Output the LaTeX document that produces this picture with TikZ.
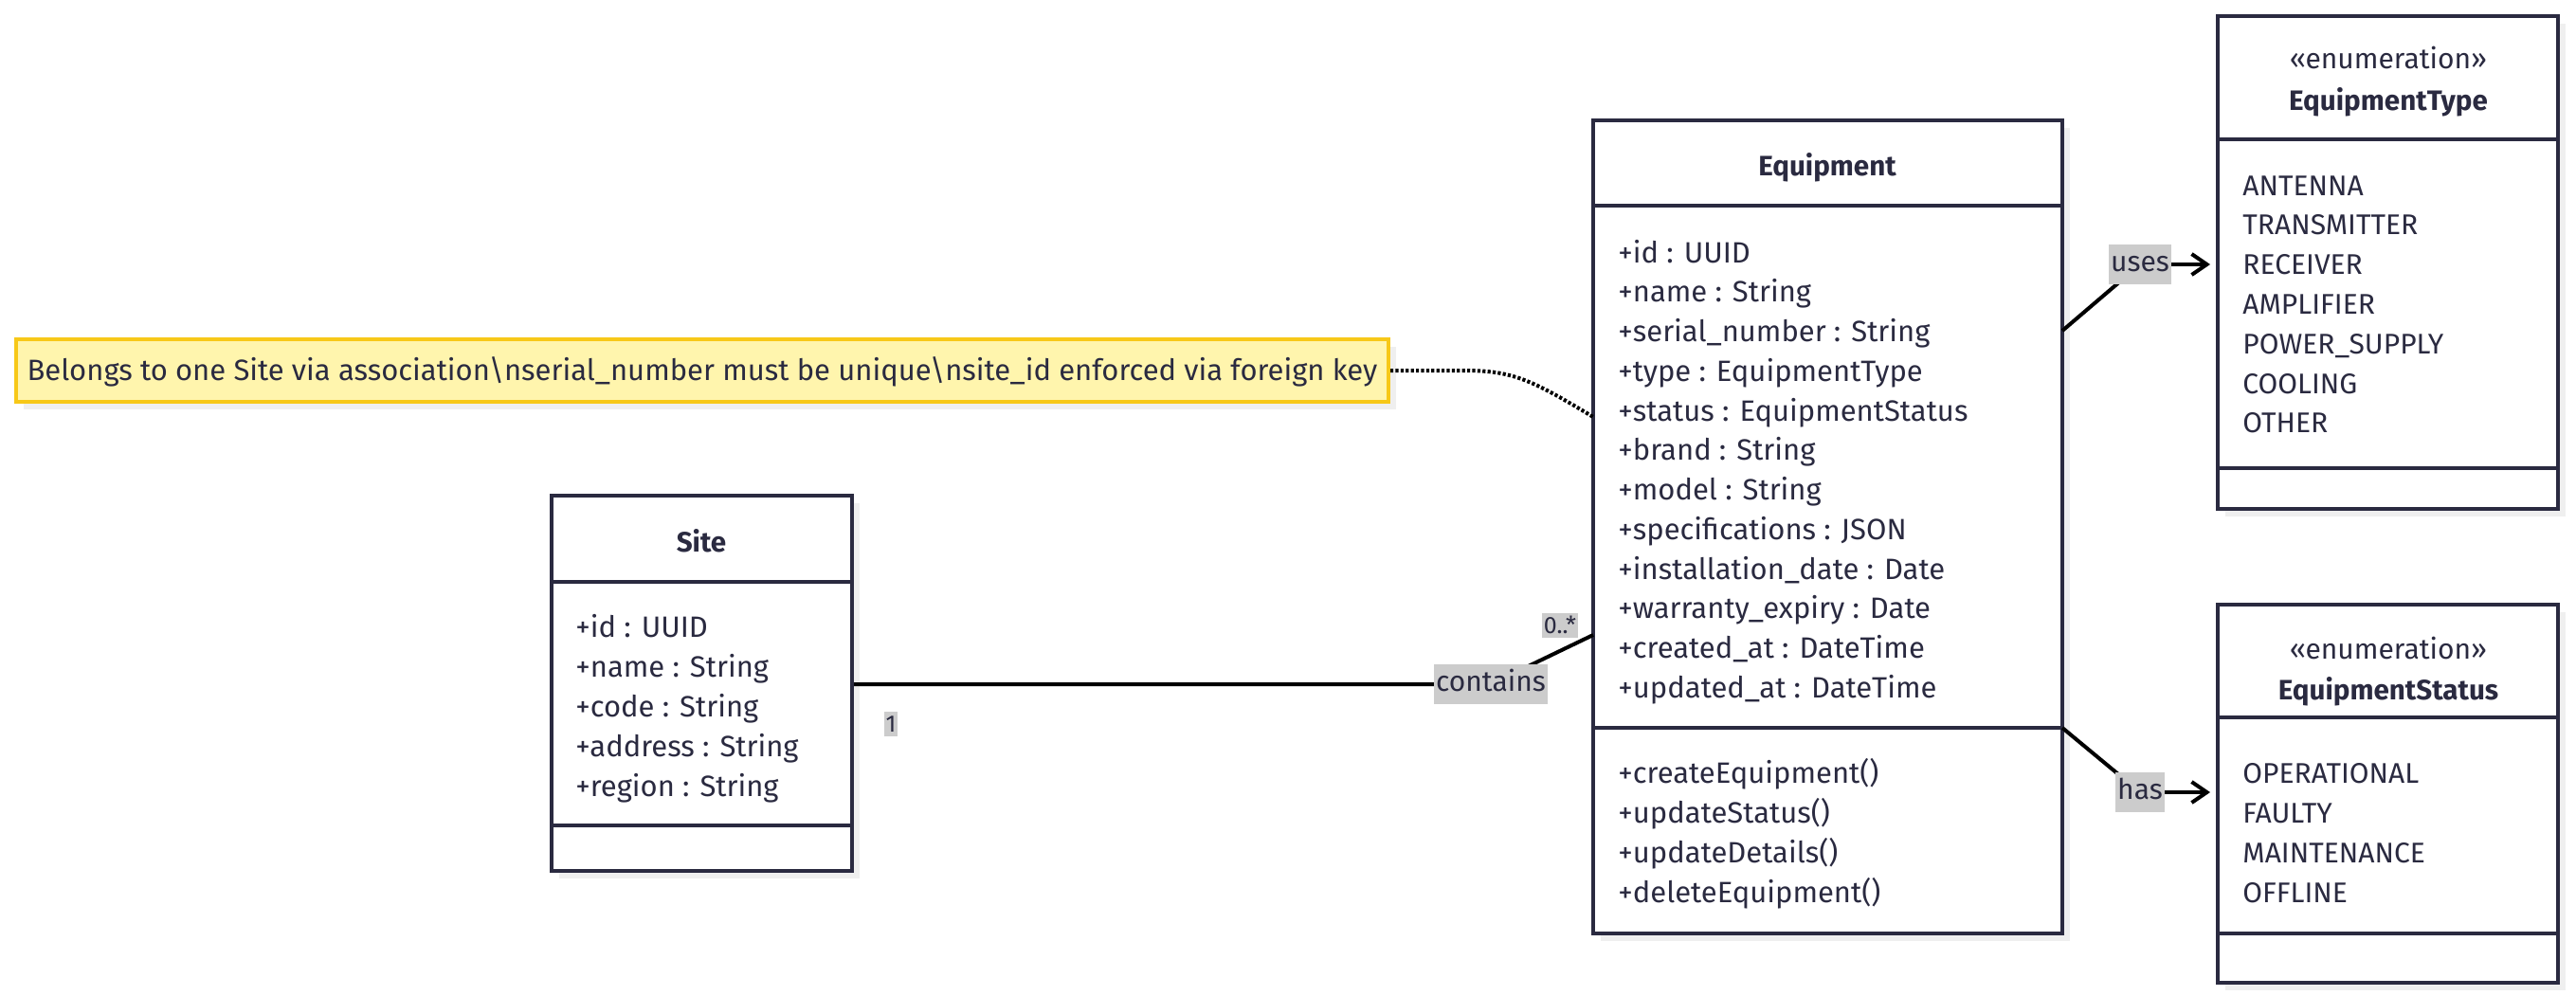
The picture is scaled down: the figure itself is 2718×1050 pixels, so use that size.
\documentclass[tikz,border=0pt]{standalone}
\usepackage{fontspec}
\setmainfont{Fira Sans}
\usetikzlibrary{arrows.meta,fit,shadows}
\definecolor{ink}{HTML}{2A2A40}
\definecolor{shadowc}{HTML}{EFEFEF}
\definecolor{notefill}{HTML}{FFF5AD}
\definecolor{noteborder}{HTML}{F7C818}
\definecolor{lblfill}{HTML}{CCCCCC}
\begin{document}
\begin{tikzpicture}[x=0.5pt,y=-0.5pt,
  box/.style={draw=ink, line width=2pt, fill=white, inner sep=0pt,
    drop shadow={shadow xshift=4pt, shadow yshift=-4pt, fill=shadowc, opacity=1}},
  notebox/.style={draw=noteborder, line width=2pt, fill=notefill, inner sep=0pt,
    drop shadow={shadow xshift=4pt, shadow yshift=-4pt, fill=shadowc, opacity=1}},
  divider/.style={draw=ink, line width=2pt},
  attr/.style={anchor=west, inner sep=0pt, text=ink, text height=11pt, text depth=1pt,
    font=\fontsize{15.5}{17}\selectfont},
  enumitem/.style={anchor=west, inner sep=0pt, text=ink, text height=11pt, text depth=1pt,
    font=\fontsize{15}{17}\selectfont},
  ttl/.style={anchor=center, inner sep=0pt, text=ink, text height=11pt, text depth=1pt,
    font=\fontsize{14.8}{17}\selectfont\bfseries},
  stereo/.style={anchor=center, inner sep=0pt, text=ink, text height=11pt, text depth=1pt,
    font=\fontsize{15}{17}\selectfont},
  lbl/.style={fill=lblfill, text=ink, inner xsep=1pt, inner ysep=3pt, text height=11pt,
    text depth=4pt, font=\fontsize{15}{17}\selectfont},
  mult/.style={fill=lblfill, text=ink, inner xsep=1pt, inner ysep=1.5pt, text height=9pt,
    text depth=1pt, font=\fontsize{12.5}{14}\selectfont},
  conn/.style={draw=black, line width=2pt},
  arr/.style={-{Straight Barb[length=8pt,width=11pt]}, shorten >=3pt},
  dotconn/.style={draw=black, line width=2pt, dash pattern=on 1.6pt off 1.1pt}
]
\useasboundingbox[fill=white] (0,0) rectangle (2718,1050);

% ---------- Note ----------
\node[notebox, fit={(17,358) (1465,424)}] (note) {};
\node[stereo, font=\fontsize{15.5}{17}\selectfont] (notetext) at (note.center)
  {Belongs to one Site via association\textbackslash nserial\_number must be unique\textbackslash nsite\_id enforced via foreign key};

% ---------- Site ----------
\node[box, fit={(582,523) (899,919)}] (site) {};
\draw[divider] (582,614) -- (899,614);
\draw[divider] (582,871) -- (899,871);
\node[ttl] (sitetitle) at (740,572) {Site};
\foreach \t [count=\i] in {+id : UUID, +name : String, +code : String, +address : String, +region : String}
  \node[attr] (sa\i) at (607,{662+42*(\i-1)}) {\t};

% ---------- Equipment ----------
\node[box, fit={(1681,127) (2176,985)}] (equip) {};
\draw[divider] (1681,217) -- (2176,217);
\draw[divider] (1681,768) -- (2176,768);
\node[ttl] (eqtitle) at (1928,175) {Equipment};
\foreach \t [count=\i] in {+id : UUID, +name : String, +serial\_number : String, +type : EquipmentType,
  +status : EquipmentStatus, +brand : String, +model : String, +specifications : JSON,
  +installation\_date : Date, +warranty\_expiry : Date, +created\_at : DateTime, +updated\_at : DateTime}
  \node[attr] (ea\i) at (1707,{267+41.75*(\i-1)}) {\t};
\foreach \t [count=\i] in {+createEquipment(), +updateStatus(), +updateDetails(), +deleteEquipment()}
  \node[attr] (em\i) at (1707,{816+42.3*(\i-1)}) {\t};

% ---------- EquipmentType ----------
\node[box, fit={(2340,17) (2699,537)}] (etype) {};
\draw[divider] (2340,147) -- (2699,147);
\draw[divider] (2340,494) -- (2699,494);
\node[stereo] (etster) at (2520,62) {«enumeration»};
\node[ttl] (ettitle) at (2520,106) {EquipmentType};
\foreach \t [count=\i] in {ANTENNA, TRANSMITTER, RECEIVER, AMPLIFIER, POWER\_SUPPLY, COOLING, OTHER}
  \node[enumitem] (et\i) at (2366,{196+41.8*(\i-1)}) {\t};

% ---------- EquipmentStatus ----------
\node[box, fit={(2340,638) (2699,1037)}] (estatus) {};
\draw[divider] (2340,757) -- (2699,757);
\draw[divider] (2340,985) -- (2699,985);
\node[stereo] (esster) at (2520,685) {«enumeration»};
\node[ttl] (estitle) at (2520,728) {EquipmentStatus};
\foreach \t [count=\i] in {OPERATIONAL, FAULTY, MAINTENANCE, OFFLINE}
  \node[enumitem] (es\i) at (2366,{816+42.3*(\i-1)}) {\t};

% ---------- Connectors ----------
\coordinate (eqContains) at (1681,670);
\coordinate (containsPos) at (1573,722);
\coordinate (eqUses) at (2176,349);
\coordinate (usesPos) at (2258,279);
\coordinate (eqHas) at (2176,768);
\coordinate (hasPos) at (2258,836);
\coordinate (eqNote) at (1681,440);

% Site -- Equipment
\draw[conn] (site.east |- containsPos) -- (containsPos) -- (eqContains);
\node[lbl] (contains) at (containsPos) {contains};
\node[mult] (m1) at (940,764) {1};
\node[mult] (mmany) at (1646,660) {0..*};

% uses
\draw[conn] (eqUses) -- (usesPos);
\node[lbl] (uses) at (usesPos) {uses};
\draw[conn, arr] (uses.east) -- (uses.east -| etype.west);

% has
\draw[conn] (eqHas) -- (hasPos);
\node[lbl] (has) at (hasPos) {has};
\draw[conn, arr] (has.east) -- (has.east -| estatus.west);

% note link
\draw[dotconn] (note.east) -- (1545,391) .. controls (1595,391) and (1615,400) .. (eqNote);
\end{tikzpicture}
\end{document}
